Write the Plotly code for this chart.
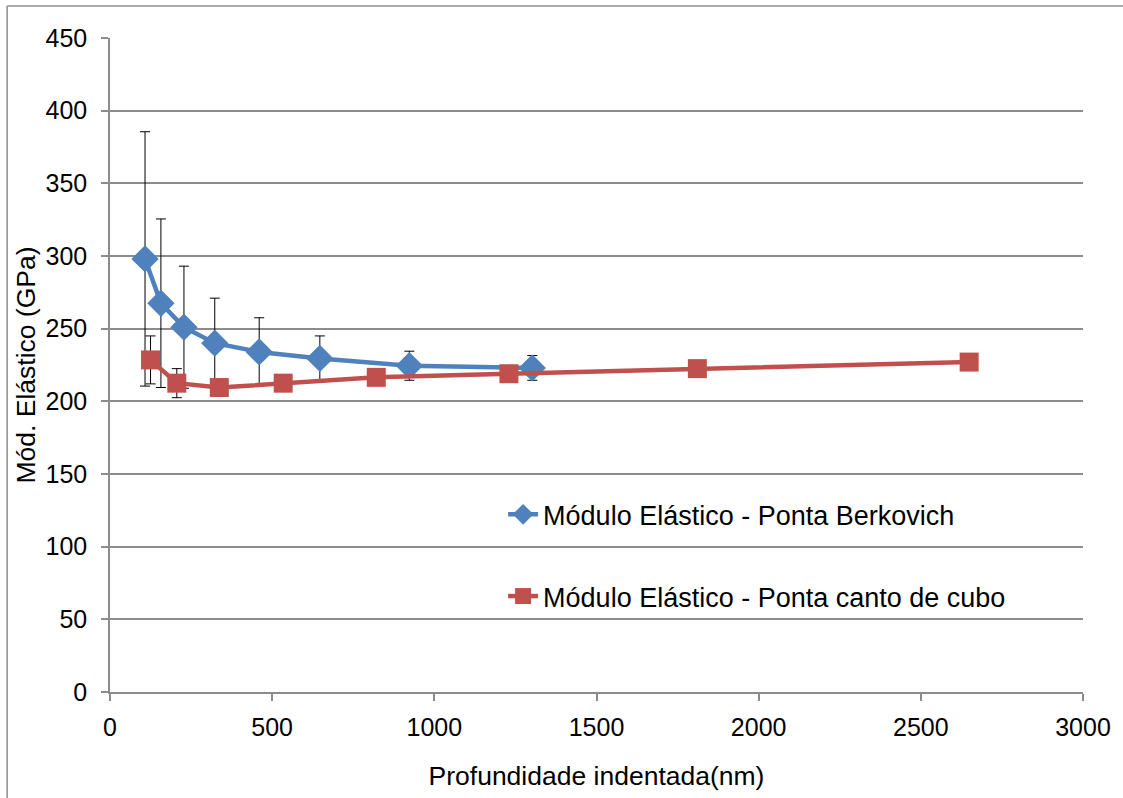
import plotly.graph_objects as go

# Berkovich tip: indentation depth (nm), elastic modulus (GPa), std deviation
berk_depth = [108, 157, 228, 323, 460, 647, 923, 1302]
berk_modulus = [298, 267.5, 251, 240, 234, 229.5, 224.5, 223]
berk_err = [87.5, 58, 42, 31, 23.5, 15.5, 10, 8.5]

# Cube-corner tip
cubo_depth = [125, 206, 337, 534, 821, 1230, 1811, 2649]
cubo_modulus = [228.5, 212.5, 209.5, 212.5, 216.5, 219, 222.5, 227]
cubo_err = [16.5, 10, 0, 0, 0, 0, 0, 0]

x_ticks = [0, 500, 1000, 1500, 2000, 2500, 3000]
y_ticks = [0, 50, 100, 150, 200, 250, 300, 350, 400, 450]

BLUE = "#4F81BD"
RED = "#C0504D"
GRID = "#8C8C8C"
FONT = "Liberation Sans, Arial, sans-serif"
FS_TICK = 25
FS_TITLE = 26.5
FS_LEGEND = 27

fig = go.Figure()

fig.add_trace(go.Scatter(
    x=berk_depth, y=berk_modulus,
    mode="lines+markers",
    name="Módulo Elástico - Ponta Berkovich",
    line=dict(color=BLUE, width=4.5),
    marker=dict(symbol="diamond", size=21, color=BLUE),
    error_y=dict(type="data", array=berk_err, visible=True,
                 color="black", thickness=1, width=5),
    legend="legend", showlegend=True,
))

fig.add_trace(go.Scatter(
    x=cubo_depth, y=cubo_modulus,
    mode="lines+markers",
    name="Módulo Elástico - Ponta canto de cubo",
    line=dict(color=RED, width=4.5),
    marker=dict(symbol="square", size=19, color=RED),
    error_y=dict(type="data", array=cubo_err, visible=True,
                 color="black", thickness=1, width=5),
    legend="legend2", showlegend=True,
))

legend_style = dict(
    xanchor="left", yanchor="middle",
    bgcolor="rgba(0,0,0,0)", borderwidth=0,
    font=dict(family=FONT, size=FS_LEGEND, color="black"),
    visible=True,
)

fig.update_layout(
    width=1123, height=798,
    margin=dict(l=110, r=39, t=38, b=104),
    paper_bgcolor="white", plot_bgcolor="white",
    font=dict(family=FONT, size=FS_TICK, color="black"),
    showlegend=True,
    legend=dict(x=0.404, y=0.271, **legend_style),
    legend2=dict(x=0.404, y=0.146, **legend_style),
    xaxis=dict(
        range=[0, 3000], tickvals=x_ticks,
        showgrid=False, zeroline=False,
        showline=True, linecolor=GRID, linewidth=1.5,
        ticks="outside", ticklen=7, tickcolor=GRID, tickwidth=1.5,
        tickfont=dict(size=FS_TICK), ticklabelstandoff=5,
        title=dict(text="Profundidade indentada(nm)", font=dict(size=FS_TITLE), standoff=27),
    ),
    yaxis=dict(
        range=[0, 450], tickvals=y_ticks,
        showgrid=True, gridcolor=GRID, gridwidth=1.5,
        zeroline=False,
        showline=True, linecolor=GRID, linewidth=1.5,
        ticks="outside", ticklen=7, tickcolor=GRID, tickwidth=1.5,
        tickfont=dict(size=FS_TICK), ticklabelstandoff=9,
        title=dict(text="Mód. Elástico (GPa)", font=dict(size=FS_TITLE), standoff=2),
    ),
    shapes=[
        dict(type="line", xref="paper", yref="paper",
             x0=(7 - 110) / 974, x1=(1130 - 110) / 974,
             y0=(694 - 6) / 656, y1=(694 - 6) / 656,
             line=dict(color=GRID, width=1.5)),
        dict(type="line", xref="paper", yref="paper",
             x0=(7 - 110) / 974, x1=(7 - 110) / 974,
             y0=(694 - 6) / 656, y1=(694 - 805) / 656,
             line=dict(color=GRID, width=1.5)),
    ],
)

fig.write_html("out.html")
